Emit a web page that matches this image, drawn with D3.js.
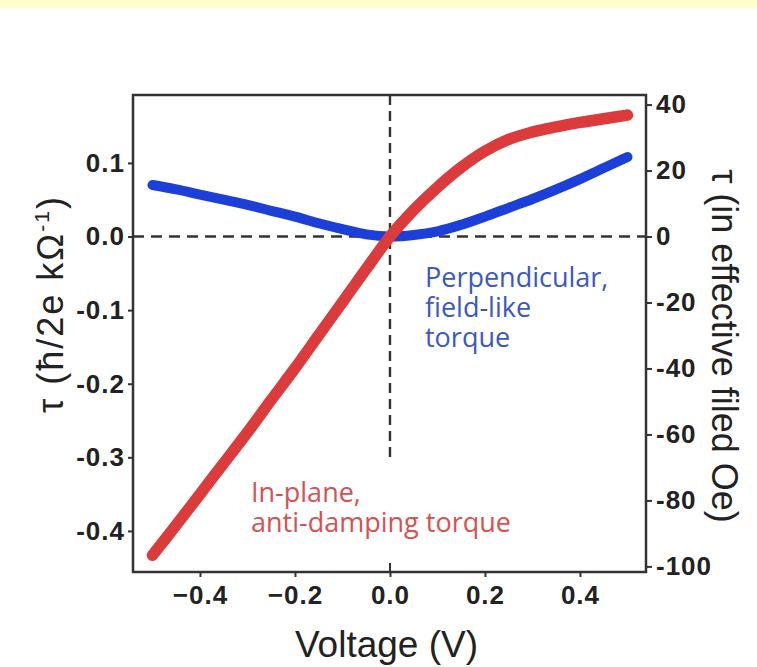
<!DOCTYPE html>
<html>
<head>
<meta charset="utf-8">
<script src="https://d3js.org/d3.v7.min.js"></script>
<style>
  html, body { margin: 0; padding: 0; background: #fff; }
  svg { display: block; }
</style>
</head>
<body>
<div id="chart"></div>
<script>
// voltage samples (V)
var voltage = [-0.5, -0.45, -0.4, -0.35, -0.3, -0.25, -0.2, -0.15, -0.1, -0.05, 0,
               0.05, 0.1, 0.15, 0.2, 0.25, 0.3, 0.35, 0.4, 0.45, 0.5];
// in-plane, anti-damping torque (hbar/2e kOhm^-1)
var inPlane = [-0.433, -0.392, -0.350, -0.308, -0.266, -0.222, -0.179, -0.134, -0.089, -0.044, 0.000,
               0.036, 0.067, 0.094, 0.116, 0.132, 0.142, 0.149, 0.155, 0.160, 0.165];
// perpendicular, field-like torque
var perp = [0.070, 0.064, 0.057, 0.050, 0.043, 0.035, 0.027, 0.018, 0.010, 0.003, 0.000,
            0.002, 0.007, 0.016, 0.027, 0.039, 0.051, 0.064, 0.078, 0.093, 0.108];

var xTicks = [-0.4, -0.2, 0, 0.2, 0.4];
var yTicks = [0.1, 0, -0.1, -0.2, -0.3, -0.4];
var yRightTicks = [40, 20, 0, -20, -40, -60, -80, -100];
var vLineEnd = -0.307;

var blueNote = ["Perpendicular,", "field-like", "torque"];
var redNote = ["In-plane,", "anti-damping torque"];

var W = 757, H = 667;
// note: "top" is reserved on window, so use plot* names
var plotL = 133, plotR = 646, plotT = 95, plotB = 572;

var svg = d3.select("#chart").append("svg")
    .attr("width", W)
    .attr("height", H);

// pale yellow band at the very top
svg.append("rect")
    .attr("x", 0).attr("y", 0)
    .attr("width", W).attr("height", 8)
    .attr("fill", "#ffffcc");

var x = d3.scaleLinear().domain([-0.541, 0.539]).range([plotL, plotR]);
var y = d3.scaleLinear().domain([-0.4558, 0.1923]).range([plotB, plotT]);
var yR = d3.scaleLinear().domain([-101.7, 42.9]).range([plotB, plotT]);

var hyphen = function (fmt) {
  return function (d) { return d3.format(fmt)(d).replace("\u2212", "-"); };
};

// dashed zero lines
svg.append("line")
    .attr("x1", plotL).attr("x2", plotR)
    .attr("y1", y(0)).attr("y2", y(0))
    .attr("stroke", "#333").attr("stroke-width", 2.4)
    .attr("stroke-dasharray", "11,7");
svg.append("line")
    .attr("x1", x(0)).attr("x2", x(0))
    .attr("y1", plotT).attr("y2", y(vLineEnd))
    .attr("stroke", "#333").attr("stroke-width", 2.4)
    .attr("stroke-dasharray", "10,6");

// curves
var line = d3.line()
    .x(function (d) { return x(d[0]); })
    .y(function (d) { return y(d[1]); })
    .curve(d3.curveCatmullRom);

svg.append("path")
    .datum(d3.zip(voltage, perp))
    .attr("d", line)
    .attr("fill", "none")
    .attr("stroke", "#1c3fd8")
    .attr("stroke-width", 10)
    .attr("stroke-linecap", "round");

svg.append("path")
    .datum(d3.zip(voltage, inPlane))
    .attr("d", line)
    .attr("fill", "none")
    .attr("stroke", "#dc3b3b")
    .attr("stroke-width", 11.5)
    .attr("stroke-linecap", "round");

// frame
svg.append("rect")
    .attr("x", plotL).attr("y", plotT)
    .attr("width", plotR - plotL).attr("height", plotB - plotT)
    .attr("fill", "none")
    .attr("stroke", "#333")
    .attr("stroke-width", 2.5);

// axes
var tickFont = function (g) {
  g.select(".domain").remove();
  g.selectAll(".tick line").attr("stroke", "#333").attr("stroke-width", 2);
  g.selectAll(".tick text")
      .attr("fill", "#222")
      .style("font-family", "'Liberation Sans', Arial, sans-serif")
      .style("font-weight", "bold")
      .style("font-size", "26px")
      .style("letter-spacing", "1px");
};

svg.append("g")
    .attr("transform", "translate(0," + plotB + ")")
    .call(d3.axisBottom(x).tickValues(xTicks).tickFormat(d3.format(".1f"))
      .tickSize(5).tickPadding(9))
    .call(tickFont);

// small inward tick at V = 0
svg.append("line")
    .attr("x1", x(0)).attr("x2", x(0))
    .attr("y1", plotB).attr("y2", plotB - 9)
    .attr("stroke", "#333").attr("stroke-width", 2);

svg.append("g")
    .attr("transform", "translate(" + plotL + ",0)")
    .call(d3.axisLeft(y).tickValues(yTicks).tickFormat(hyphen(".1f"))
      .tickSize(5).tickPadding(3))
    .call(tickFont);

svg.append("g")
    .attr("transform", "translate(" + plotR + ",0)")
    .call(d3.axisRight(yR).tickValues(yRightTicks).tickFormat(hyphen("d"))
      .tickSize(6).tickPadding(4))
    .call(tickFont);

// axis titles
var titleFont = "'Liberation Sans', Arial, sans-serif";

svg.append("text")
    .attr("x", (plotL + plotR) / 2 - 3)
    .attr("y", 657)
    .attr("text-anchor", "middle")
    .attr("fill", "#222")
    .style("font-family", titleFont)
    .style("font-size", "37px")
    .text("Voltage (V)");

var lt = svg.append("text")
    .attr("transform", "translate(63,304) rotate(-90)")
    .attr("text-anchor", "middle")
    .attr("fill", "#222")
    .style("font-family", titleFont)
    .style("font-size", "36px")
    .style("letter-spacing", "2px");
lt.append("tspan").text("\u03c4 (\u0127/2e k\u03a9");
lt.append("tspan").attr("dy", -14).style("font-size", "21px").text("-1");
lt.append("tspan").attr("dy", 14).text(")");

svg.append("text")
    .attr("transform", "translate(712,346) rotate(90)")
    .attr("text-anchor", "middle")
    .attr("fill", "#222")
    .style("font-family", titleFont)
    .style("font-size", "36px")
    .text("\u03c4 (in effective filed Oe)");

// annotations, one text element per note with a tspan per line
var noteFont = "'Open Sans', 'Noto Sans', sans-serif";

function note(lines, px, py, color) {
  var t = svg.append("text")
      .attr("fill", color)
      .style("font-family", noteFont)
      .style("font-size", "27px");
  t.selectAll("tspan")
      .data(lines).enter().append("tspan")
      .attr("x", px)
      .attr("y", function (d, i) { return py + i * 30; })
      .text(function (d) { return d; });
}

note(blueNote, 425, 287, "#3a57cc");
note(redNote, 251, 502, "#d9504f");
</script>
</body>
</html>
